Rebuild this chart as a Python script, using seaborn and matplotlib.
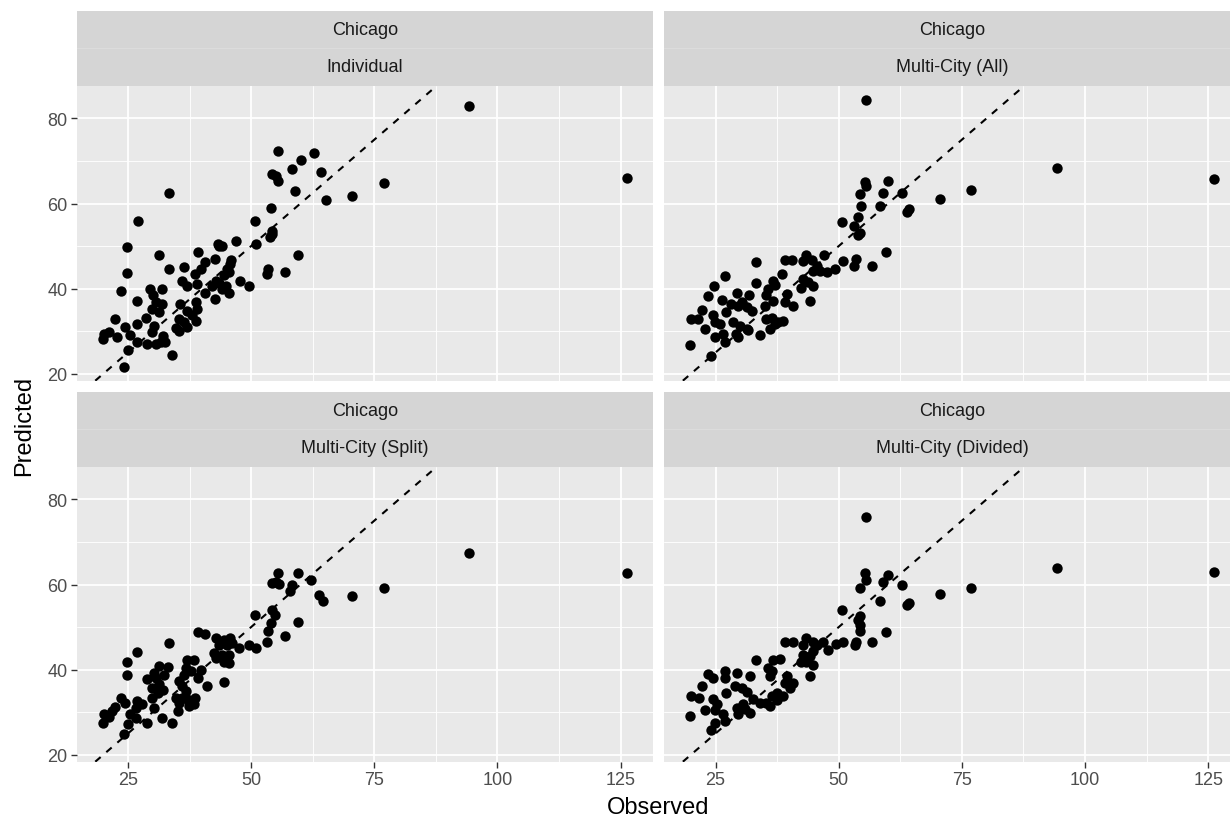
import numpy as np
import pandas as pd
import matplotlib
matplotlib.use("Agg")
import matplotlib.pyplot as plt
import seaborn as sns

city = "Chicago"
models = ["Individual", "Multi-City (All)", "Multi-City (Split)", "Multi-City (Divided)"]
x_ticks = [25, 50, 75, 100, 125]
y_ticks = [20, 40, 60, 80]

ind_obs = [55.4, 62.8, 60.1, 58.3, 64.1, 54.3, 55.0, 55.4, 33.3, 58.9, 65.1, 70.4, 54.1, 27.0, 50.7,
           54.2, 54.3, 53.9, 24.7, 43.3, 44.1, 43.4, 47.0, 50.9, 39.2, 31.3, 59.5, 42.6, 40.6, 46.0,
           45.8, 36.4, 39.9, 33.3, 53.4, 53.2, 56.8, 24.7, 38.6, 45.1, 44.5, 45.5, 36.0, 37.0, 39.1,
           42.8, 42.1, 43.4, 47.8, 49.5, 44.1, 45.5, 44.8, 40.7, 42.6, 23.6, 29.4, 30.1, 32.0, 26.9,
           30.6, 31.8, 35.5, 38.9, 39.1, 29.9, 31.3, 37.0, 38.0, 22.4, 28.7, 26.9, 30.3, 29.8, 24.3,
           35.3, 36.4, 34.7, 38.9, 37.0, 35.3, 20.1, 21.1, 19.9, 22.8, 25.5, 26.9, 28.9, 30.6, 32.1,
           32.6, 31.6, 24.9, 34.0, 24.2, 77.0, 94.2, 126.2]
ind_pred = [72.3, 71.9, 70.2, 68.1, 67.3, 66.9, 66.4, 65.3, 62.5, 62.9, 60.9, 61.8, 58.9, 55.8, 56.0,
            53.6, 52.8, 52.1, 49.7, 50.5, 50.1, 50.0, 51.3, 50.5, 48.5, 47.9, 47.9, 47.0, 46.2, 46.8,
            45.8, 45.0, 44.6, 44.6, 44.6, 43.5, 44.0, 43.6, 43.5, 44.6, 43.1, 43.9, 41.7, 40.7, 41.1,
            41.7, 40.7, 41.4, 41.7, 40.7, 39.9, 39.0, 40.7, 39.0, 37.6, 39.5, 39.9, 38.4, 39.9, 37.0,
            36.8, 36.4, 36.4, 36.8, 35.2, 35.2, 34.4, 34.8, 33.7, 32.9, 33.1, 31.7, 31.3, 29.8, 30.9,
            32.9, 32.1, 30.7, 32.5, 30.9, 30.1, 29.4, 29.8, 28.2, 28.6, 29.0, 27.4, 27.0, 27.0, 28.8,
            27.4, 27.4, 25.6, 24.3, 21.5, 64.8, 82.9, 66.1]

all_obs = [55.6, 55.3, 55.5, 54.3, 60.0, 58.9, 62.8, 58.3, 54.6, 64.3, 63.9, 70.5, 50.7, 53.9, 53.1,
           54.3, 53.9, 59.5, 56.8, 53.6, 53.1, 50.9, 33.3, 39.1, 40.6, 43.4, 42.8, 44.5, 47.0, 45.5,
           44.8, 46.1, 47.7, 49.2, 26.9, 38.4, 36.6, 37.0, 35.7, 42.8, 42.4, 43.8, 44.8, 33.3, 24.7,
           23.5, 26.2, 27.2, 29.3, 31.8, 30.3, 31.3, 32.3, 35.3, 35.0, 36.7, 39.4, 39.1, 40.7, 44.1,
           28.2, 29.6, 22.2, 24.5, 20.1, 21.5, 22.8, 24.9, 25.9, 28.6, 29.9, 31.3, 29.1, 29.6, 31.6,
           34.0, 24.9, 26.6, 26.9, 35.3, 36.4, 37.0, 36.0, 37.7, 38.7, 19.9, 24.1, 76.9, 94.3, 126.2]
all_pred = [84.4, 65.1, 64.0, 62.2, 65.4, 62.5, 62.5, 59.5, 59.3, 58.6, 57.9, 61.0, 55.7, 56.8, 54.8,
            53.1, 52.5, 48.5, 45.3, 47.0, 45.3, 46.6, 46.2, 46.8, 46.8, 47.9, 46.4, 46.8, 47.8, 45.4,
            44.2, 44.2, 44.0, 44.6, 42.9, 43.5, 41.7, 40.9, 39.9, 42.3, 40.1, 41.5, 40.7, 41.3, 40.7,
            38.2, 37.4, 34.6, 39.0, 38.4, 36.8, 35.6, 34.8, 38.4, 36.0, 37.2, 38.8, 36.8, 36.0, 37.2,
            36.4, 36.0, 35.0, 33.7, 32.9, 32.9, 30.5, 32.1, 31.7, 32.1, 31.3, 30.5, 29.4, 28.6, 30.2,
            29.2, 28.6, 29.4, 27.4, 32.9, 33.1, 31.7, 30.5, 32.1, 32.5, 26.8, 24.1, 63.2, 68.3, 65.8]

split_obs = [55.4, 55.0, 54.3, 55.7, 59.5, 62.1, 58.3, 57.8, 63.7, 64.5, 70.4, 50.7, 54.3, 54.8, 54.1,
             53.4, 53.2, 59.5, 56.8, 39.3, 40.7, 42.8, 44.5, 45.8, 33.3, 43.4, 45.1, 46.1, 47.5, 49.5,
             50.9, 42.4, 44.1, 45.5, 42.8, 44.5, 45.5, 26.9, 24.7, 24.7, 37.0, 38.4, 36.7, 37.7, 36.4,
             39.9, 39.3, 41.0, 44.5, 31.3, 33.2, 30.3, 32.3, 28.9, 30.6, 31.3, 32.1, 29.9, 31.0, 29.9,
             35.3, 36.0, 36.7, 34.7, 35.3, 36.0, 37.0, 38.4, 38.7, 37.4, 35.2, 26.9, 26.6, 27.9, 30.3,
             23.5, 24.3, 22.4, 21.8, 20.1, 21.1, 25.5, 26.6, 19.9, 24.9, 28.9, 31.9, 34.0, 24.2, 76.9,
             94.2, 126.2]
split_pred = [62.8, 60.7, 60.3, 60.1, 62.7, 61.1, 59.8, 58.4, 57.6, 56.2, 57.4, 52.9, 54.1, 52.9, 50.9,
              49.0, 46.6, 51.3, 47.8, 48.8, 48.4, 47.4, 47.0, 47.4, 46.2, 45.8, 45.8, 46.2, 45.1, 45.8,
              45.1, 43.9, 43.5, 43.5, 42.7, 41.9, 41.5, 44.1, 41.8, 38.8, 42.3, 42.3, 40.4, 39.6, 38.8,
              40.0, 38.0, 36.1, 37.0, 40.8, 40.5, 39.1, 38.8, 37.7, 38.0, 36.5, 35.3, 35.7, 34.5, 33.4,
              37.3, 36.1, 34.9, 33.4, 32.2, 33.4, 33.0, 31.8, 33.4, 31.4, 30.2, 32.6, 31.0, 31.8, 31.0,
              33.4, 32.2, 31.2, 30.2, 29.5, 28.8, 29.5, 28.7, 27.5, 27.1, 27.5, 28.7, 27.5, 24.8, 59.2,
              67.4, 62.7]

div_obs = [55.6, 55.3, 55.5, 54.3, 60.0, 58.9, 62.8, 58.3, 64.3, 63.9, 70.5, 50.7, 54.3, 53.9, 54.3,
           54.3, 59.5, 56.8, 53.6, 53.2, 50.9, 39.1, 40.7, 43.4, 42.8, 44.7, 46.8, 45.5, 47.8, 49.5,
           44.8, 44.1, 42.8, 43.4, 44.8, 42.4, 44.1, 33.3, 36.7, 38.0, 35.7, 36.4, 36.0, 39.4, 39.1,
           40.7, 40.1, 37.4, 36.4, 38.7, 34.0, 35.3, 36.0, 37.4, 23.5, 24.5, 26.9, 29.3, 32.0, 27.0,
           22.2, 28.9, 30.3, 31.4, 32.6, 20.1, 21.6, 24.5, 25.2, 27.2, 22.8, 24.9, 26.6, 29.3, 30.6,
           29.6, 32.0, 31.0, 19.9, 24.9, 26.9, 24.1, 76.9, 94.3, 126.2]
div_pred = [75.9, 62.7, 61.1, 59.1, 62.3, 60.6, 59.8, 56.2, 55.6, 55.2, 57.7, 54.1, 52.5, 51.7, 50.5,
            49.0, 48.8, 46.6, 46.6, 45.8, 46.6, 46.6, 46.4, 47.4, 45.8, 46.6, 46.4, 45.8, 44.7, 46.0,
            44.3, 43.1, 43.5, 41.9, 41.1, 41.9, 38.4, 42.3, 42.3, 42.5, 40.4, 39.6, 38.4, 38.4, 36.9,
            36.9, 35.7, 34.5, 33.7, 33.7, 32.1, 32.1, 31.4, 32.9, 39.0, 38.0, 39.6, 39.1, 38.6, 38.0,
            36.1, 36.1, 35.7, 34.7, 33.0, 33.9, 33.4, 33.0, 31.8, 34.5, 30.6, 30.6, 29.5, 31.0, 31.8,
            29.5, 29.8, 30.8, 29.1, 27.5, 27.9, 25.9, 59.2, 63.9, 62.9]

series = {
    models[0]: (ind_obs, ind_pred),
    models[1]: (all_obs, all_pred),
    models[2]: (split_obs, split_pred),
    models[3]: (div_obs, div_pred),
}
frames = []
for m, (o, p) in series.items():
    frames.append(pd.DataFrame({"Observed": o, "Predicted": p, "model": m, "city": city}))
df = pd.concat(frames, ignore_index=True)

sns.set_theme(style="darkgrid")
plt.rcParams["font.family"] = ["Liberation Sans", "DejaVu Sans"]

W, H = 1230, 820
fig = plt.figure(figsize=(W / 100, H / 100), dpi=100)
fig.patch.set_facecolor("white")

def px_axes(l, t, r, b, **kw):
    return fig.add_axes([l / W, 1 - b / H, (r - l) / W, (b - t) / H], **kw)

panel_px = [
    (76.7, 87.3, 652.7, 381.7),
    (664.3, 87.3, 1240.3, 381.7),
    (76.7, 468.3, 652.7, 762.7),
    (664.3, 468.3, 1240.3, 762.7),
]
strip_h = 75.0

xmin, xmax = df["Observed"].min(), df["Observed"].max()
ymin, ymax = df["Predicted"].min(), df["Predicted"].max()
xpad = (xmax - xmin) * 0.05
ypad = (ymax - ymin) * 0.05

tick_col = "#333333"
lab_col = "#4D4D4D"

for i, (m, (l, t, r, b)) in enumerate(zip(models, panel_px)):
    ax = px_axes(l, t, r, b)
    ax.set_facecolor("#E9E9E9")
    sub = df[df["model"] == m]
    ax.set_xlim(xmin - xpad, xmax + xpad)
    ax.set_ylim(ymin - ypad, ymax + ypad)
    ax.axline((0, 0), slope=1, color="black", lw=1.5, ls=(0, (3.4, 3.6)), zorder=2)
    sns.scatterplot(data=sub, x="Observed", y="Predicted", ax=ax, color="black",
                    s=56, linewidth=0, zorder=3, legend=False)
    ax.set_xticks(x_ticks)
    ax.set_yticks(y_ticks)
    ax.set_xticks([37.5, 62.5, 87.5, 112.5], minor=True)
    ax.set_yticks([30, 50, 70], minor=True)
    ax.grid(which="major", color="white", lw=1.3)
    ax.grid(which="minor", color="white", lw=0.65)
    ax.set_axisbelow(True)
    for s in ax.spines.values():
        s.set_visible(False)
    ax.tick_params(which="minor", length=0)
    ax.tick_params(which="major", bottom=True, left=True, length=4.3, width=1.0, color=tick_col,
                   labelcolor=lab_col, labelsize=13, pad=2.5)
    ax.set_xlabel("")
    ax.set_ylabel("")
    if i < 2:
        ax.tick_params(axis="x", which="major", bottom=False, labelbottom=False)
    if i % 2 == 1:
        ax.tick_params(axis="y", which="major", left=False, labelleft=False)

    # two-level strip
    sax = px_axes(l, t - strip_h - 0.6, r, t - 0.6)
    sax.set_facecolor("#D5D5D5")
    sax.grid(False)
    sax.set_xticks([])
    sax.set_yticks([])
    for s in sax.spines.values():
        s.set_visible(False)
    sax.axhline(0.5, color="#DCDCDC", lw=0.8)
    sax.text(0.5, 0.75, city, ha="center", va="center", fontsize=13, color="#1A1A1A",
             transform=sax.transAxes)
    sax.text(0.5, 0.25, m, ha="center", va="center", fontsize=13, color="#1A1A1A",
             transform=sax.transAxes)

fig.text(658.5 / W, 1 - 808 / H, "Observed", ha="center", va="center", fontsize=17, color="black")
fig.text(24 / W, 1 - 426 / H, "Predicted", ha="center", va="center", rotation=90,
         fontsize=17, color="black")

fig.savefig("out.png", dpi=100)
